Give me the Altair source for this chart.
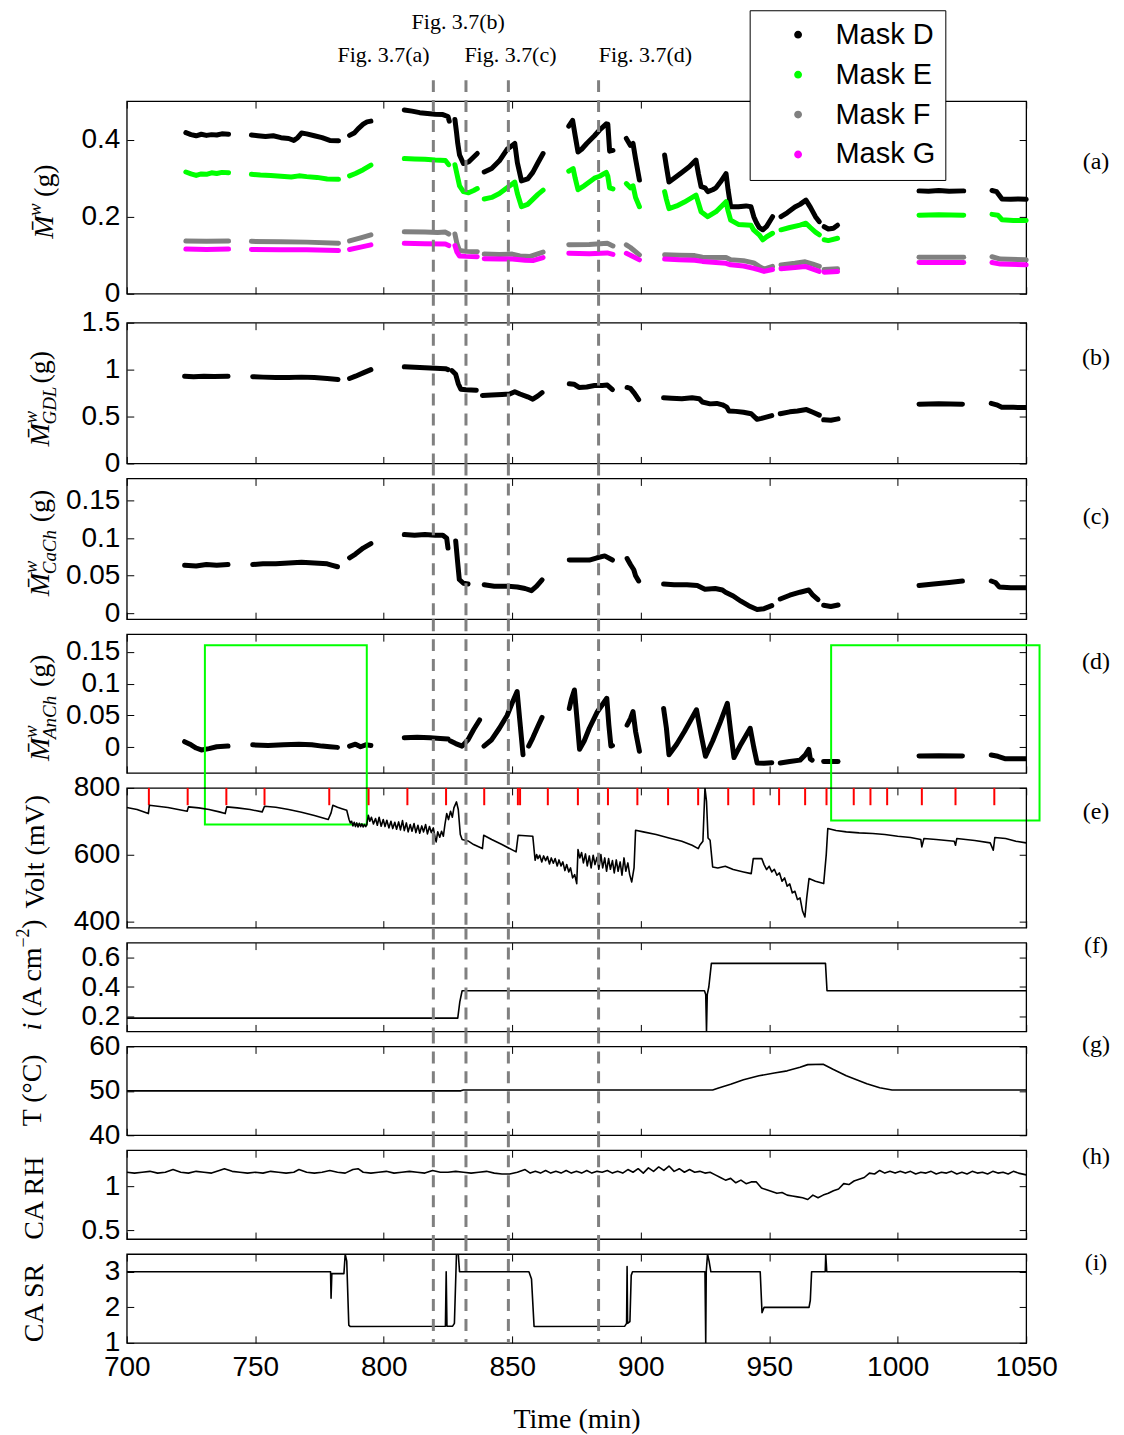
import altair as alt
import pandas as pd

SERIF = "Liberation Serif"
SANS = "Liberation Sans"
W = 901

X_TICKS = [700, 750, 800, 850, 900, 950, 1000, 1050]
FIG_TIMES = [819.3, 832.0, 848.5, 883.6]
FIG_LABELS = ["Fig. 3.7(a)", "Fig. 3.7(b)", "Fig. 3.7(c)", "Fig. 3.7(d)"]
FIG_LABEL_T = [799.9, 829.0, 849.3, 901.8]
FIG_LABEL_ROW = [2, 1, 2, 2]

SERIES = ["Mask D", "Mask E", "Mask F", "Mask G"]
SERIES_COLORS = ["#000000", "#00ff00", "#808080", "#ff00ff"]

# ---------------- panel (a): total water per mask ----------------
MASK_D = [
    [(723, 0.418), (725, 0.413), (727, 0.41), (729, 0.414), (731, 0.411), (733, 0.413), (735, 0.412), (737, 0.415), (739.6, 0.414)],
    [(748.5, 0.412), (751, 0.41), (754, 0.408), (757, 0.41), (760, 0.405), (763, 0.403), (765, 0.398), (766.5, 0.405), (768, 0.417), (770, 0.415), (773, 0.41), (776, 0.405), (779, 0.398), (782.4, 0.397)],
    [(786.7, 0.411), (788.5, 0.417), (790, 0.428), (792, 0.44), (793.5, 0.446), (795, 0.448)],
    [(808, 0.477), (811, 0.474), (814, 0.47), (817, 0.468), (820, 0.466), (823, 0.465), (825, 0.46), (825.5, 0.448)],
    [(827.7, 0.452), (828.3, 0.42), (828.8, 0.39), (829.5, 0.36), (831, 0.338), (833, 0.342), (835, 0.355), (836.4, 0.364)],
    [(839.1, 0.316), (842, 0.325), (845, 0.345), (848, 0.375), (850, 0.385), (851, 0.39), (852, 0.34), (853.6, 0.293), (856, 0.298), (858, 0.315), (860, 0.34), (862, 0.364)],
    [(872, 0.435), (873.5, 0.45), (874.5, 0.41), (875.6, 0.368), (877, 0.375), (879, 0.39), (882, 0.41), (884, 0.425), (886.6, 0.441), (887.2, 0.44), (887.9, 0.37), (889.2, 0.372)],
    [(894.4, 0.403), (896, 0.385), (897, 0.39), (898, 0.35), (899.5, 0.295)],
    [(909.3, 0.36), (910, 0.33), (911, 0.29), (913, 0.3), (916, 0.315), (919, 0.33), (921.5, 0.347), (922.5, 0.31), (923.5, 0.278), (925, 0.275), (926.1, 0.265), (928, 0.27), (929.3, 0.275), (931, 0.29), (933.2, 0.312), (934, 0.27), (935, 0.226), (938, 0.226), (941, 0.228), (942.9, 0.226), (944, 0.2), (945, 0.185), (946.1, 0.172), (947.5, 0.166), (949, 0.175), (951.3, 0.2)],
    [(954.6, 0.2), (957, 0.21), (960, 0.225), (962, 0.232), (964.3, 0.243), (966, 0.225), (968, 0.2), (969.5, 0.187)],
    [(971.4, 0.174), (973, 0.168), (975, 0.17), (976.6, 0.178)],
    [(1008.3, 0.267), (1012, 0.266), (1016, 0.268), (1020, 0.266), (1025.7, 0.267)],
    [(1036.7, 0.268), (1038.5, 0.265), (1040.6, 0.246), (1044, 0.245), (1047, 0.246), (1050, 0.245)],
]
MASK_E = [
    [(723, 0.316), (725, 0.311), (727, 0.307), (729, 0.311), (731, 0.31), (733, 0.314), (735, 0.312), (737, 0.315), (739.6, 0.314)],
    [(748.5, 0.31), (752, 0.308), (756, 0.307), (760, 0.305), (764, 0.303), (767, 0.306), (770, 0.304), (774, 0.302), (778, 0.298), (782.4, 0.297)],
    [(786.7, 0.306), (789, 0.312), (792, 0.322), (795, 0.334)],
    [(808, 0.351), (812, 0.35), (816, 0.349), (820, 0.347), (824, 0.346), (825.3, 0.335)],
    [(827.7, 0.335), (828.5, 0.31), (829.5, 0.28), (831, 0.265), (833, 0.262), (835, 0.268), (836.4, 0.273)],
    [(839.1, 0.246), (842, 0.25), (845, 0.26), (848, 0.275), (850, 0.285), (851, 0.29), (852, 0.26), (853.6, 0.226), (856, 0.232), (858, 0.245), (860, 0.258), (862, 0.269)],
    [(872, 0.318), (873.7, 0.325), (874.5, 0.3), (875.6, 0.27), (878, 0.28), (880, 0.29), (882, 0.3), (884, 0.305), (886.6, 0.315), (887.2, 0.305), (887.9, 0.275), (889.2, 0.272)],
    [(894.4, 0.286), (896, 0.275), (897, 0.28), (898, 0.25), (899.5, 0.226)],
    [(909.3, 0.265), (910, 0.245), (911, 0.221), (914, 0.228), (917, 0.238), (921.5, 0.256), (922.5, 0.235), (923.5, 0.213), (926.1, 0.2), (929.3, 0.213), (933.2, 0.239), (934, 0.215), (935, 0.191), (938, 0.18), (942.9, 0.178), (944, 0.165), (946.1, 0.153), (947.5, 0.14), (949, 0.148), (951.3, 0.157)],
    [(954.6, 0.166), (958, 0.172), (962, 0.178), (964.3, 0.183), (966, 0.172), (968, 0.16), (969.5, 0.153)],
    [(971.4, 0.14), (973, 0.138), (976.6, 0.144)],
    [(1008.3, 0.204), (1016, 0.205), (1025.7, 0.204)],
    [(1036.7, 0.206), (1039, 0.204), (1040.6, 0.192), (1045, 0.19), (1050, 0.19)],
]
MASK_F = [
    [(723, 0.137), (731, 0.136), (739.6, 0.137)],
    [(748.5, 0.136), (760, 0.135), (770, 0.134), (782.4, 0.131)],
    [(786.7, 0.137), (791, 0.145), (795, 0.153)],
    [(808, 0.161), (816, 0.16), (821, 0.159), (824, 0.16), (825.3, 0.155)],
    [(827.7, 0.155), (828.5, 0.13), (829.5, 0.112), (832, 0.11), (836.4, 0.109)],
    [(839.1, 0.103), (845, 0.102), (850, 0.103), (853, 0.098), (857, 0.097), (862, 0.108)],
    [(872, 0.127), (880, 0.128), (887, 0.131), (889.2, 0.124)],
    [(894.4, 0.127), (896, 0.12), (899.5, 0.101)],
    [(909.3, 0.101), (915, 0.1), (921, 0.099), (924, 0.095), (933.2, 0.094), (935, 0.088), (940, 0.086), (944, 0.08), (946.1, 0.071), (948, 0.064), (951.3, 0.071)],
    [(954.6, 0.075), (960, 0.079), (964, 0.083), (967, 0.077), (969.5, 0.071)],
    [(971.4, 0.063), (976.6, 0.065)],
    [(1008.3, 0.095), (1025.7, 0.095)],
    [(1036.7, 0.096), (1040, 0.09), (1050, 0.088)],
]
MASK_G = [
    [(723, 0.116), (731, 0.115), (739.6, 0.116)],
    [(748.5, 0.115), (760, 0.114), (770, 0.114), (782.4, 0.112)],
    [(786.7, 0.115), (791, 0.121), (795, 0.127)],
    [(808, 0.131), (816, 0.13), (824, 0.129), (825.3, 0.125)],
    [(827.7, 0.125), (828.5, 0.108), (829.5, 0.098), (832, 0.097), (836.4, 0.096)],
    [(839.1, 0.091), (845, 0.09), (850, 0.09), (855, 0.087), (858, 0.086), (862, 0.094)],
    [(872, 0.105), (880, 0.104), (887, 0.106), (889.2, 0.102)],
    [(894.4, 0.105), (896, 0.1), (899.5, 0.088)],
    [(909.3, 0.09), (915, 0.088), (921, 0.087), (924, 0.084), (933.2, 0.079), (935, 0.075), (940, 0.072), (944, 0.066), (946.1, 0.062), (948, 0.058), (951.3, 0.063)],
    [(954.6, 0.065), (960, 0.068), (964, 0.071), (967, 0.064), (969.5, 0.058)],
    [(971.4, 0.056), (976.6, 0.058)],
    [(1008.3, 0.081), (1025.7, 0.081)],
    [(1036.7, 0.081), (1040, 0.077), (1050, 0.075)],
]

# ---------------- panel (b): GDL water ----------------
GDL = [
    [(722.5, 0.93), (726, 0.925), (730, 0.93), (734, 0.926), (739.4, 0.93)],
    [(749, 0.925), (753, 0.92), (758, 0.915), (763, 0.915), (768, 0.92), (773, 0.915), (778, 0.905), (782.2, 0.895)],
    [(786.7, 0.905), (789, 0.93), (792, 0.965), (795, 1.0)],
    [(808, 1.03), (812, 1.025), (816, 1.02), (820, 1.015), (824, 1.01), (825, 1.0)],
    [(826.5, 0.99), (828, 0.95), (829, 0.85), (830, 0.79), (832, 0.785), (836, 0.78)],
    [(838.4, 0.725), (842, 0.73), (846, 0.735), (849, 0.74), (851, 0.765), (853, 0.74), (856, 0.71), (858, 0.685), (860, 0.72), (861.6, 0.755)],
    [(872.2, 0.85), (874, 0.845), (876, 0.81), (879, 0.815), (882, 0.83), (885, 0.83), (887, 0.835), (889, 0.787)],
    [(894.7, 0.81), (896, 0.8), (897.5, 0.75), (899.2, 0.68)],
    [(908.9, 0.7), (912, 0.695), (916, 0.69), (920, 0.7), (922.8, 0.69), (924, 0.655), (927, 0.635), (929.6, 0.64), (931.8, 0.625), (933.5, 0.6), (934.3, 0.56), (937, 0.555), (940, 0.545), (943, 0.53), (945.3, 0.47), (947, 0.48), (951, 0.51)],
    [(954.3, 0.53), (958, 0.55), (961, 0.56), (964.5, 0.574), (967, 0.545), (969.5, 0.515)],
    [(971.2, 0.465), (974, 0.46), (976.8, 0.475)],
    [(1008.3, 0.632), (1016, 0.635), (1025.2, 0.632)],
    [(1036.4, 0.64), (1038.5, 0.625), (1040.5, 0.6), (1045, 0.598), (1050, 0.596)],
]

# ---------------- panel (c): cathode channel water ----------------
CACH = [
    [(722.5, 0.064), (727, 0.063), (731, 0.065), (735, 0.064), (739.4, 0.065)],
    [(749, 0.065), (753, 0.066), (758, 0.066), (763, 0.067), (768, 0.068), (773, 0.067), (778, 0.066), (780, 0.064), (782, 0.062)],
    [(786.7, 0.074), (789, 0.079), (792, 0.087), (795, 0.093)],
    [(808, 0.105), (812, 0.104), (816, 0.105), (820, 0.104), (823, 0.104), (824.5, 0.1), (825, 0.087)],
    [(828, 0.0965), (828.7, 0.07), (829.4, 0.045), (831, 0.04), (832.8, 0.039)],
    [(839.1, 0.038), (843, 0.036), (848, 0.036), (852, 0.035), (855, 0.033), (857.5, 0.03), (859.5, 0.036), (861.6, 0.0445)],
    [(872.2, 0.071), (876, 0.071), (880, 0.071), (883, 0.074), (886, 0.0765), (889, 0.071)],
    [(894.7, 0.073), (896, 0.065), (897.3, 0.058), (898, 0.05), (899.2, 0.043)],
    [(908.9, 0.039), (913, 0.038), (918, 0.038), (922, 0.037), (925, 0.032), (929, 0.033), (931.8, 0.031), (933, 0.028), (936, 0.023), (939, 0.016), (942, 0.01), (945.3, 0.005), (948, 0.006), (951, 0.01)],
    [(954.3, 0.019), (958, 0.024), (962, 0.028), (965.4, 0.031), (967, 0.024), (969, 0.018)],
    [(971.2, 0.0107), (974, 0.009), (976.8, 0.011)],
    [(1008.3, 0.037), (1014, 0.039), (1020, 0.041), (1025.2, 0.043)],
    [(1036.4, 0.043), (1038, 0.041), (1039.5, 0.035), (1044, 0.034), (1050, 0.034)],
]

# ---------------- panel (d): anode channel water ----------------
ANCH = [
    [(722.5, 0.009), (725, 0.004), (727, -0.001), (729, -0.004), (732, -0.002), (735, 0.001), (739.4, 0.002)],
    [(749, 0.004), (755, 0.003), (761, 0.004), (767, 0.005), (772, 0.004), (776, 0.002), (779, 0.001), (782, 0.0)],
    [(786.7, 0.002), (789, 0.005), (791, 0.001), (793, 0.004), (795, 0.003)],
    [(808, 0.015), (813, 0.016), (818, 0.015), (822, 0.014), (825, 0.013)],
    [(826, 0.01), (828, 0.006), (830.5, 0.002), (832.8, 0.012), (835, 0.028), (837.3, 0.043)],
    [(839, 0.002), (842, 0.012), (845, 0.03), (848, 0.05), (850, 0.07), (851.9, 0.0875), (853, 0.04), (854.2, -0.0116)],
    [(856.4, 0.002), (858, 0.015), (860, 0.033), (861.6, 0.047)],
    [(872.2, 0.061), (873, 0.075), (874.2, 0.09), (875.2, 0.045), (876.2, -0.003), (878, 0.01), (880, 0.03), (883, 0.055), (886.8, 0.077), (887.6, 0.035), (888.4, 0.002), (889, 0.003)],
    [(894.7, 0.035), (896, 0.045), (897, 0.056), (898, 0.025), (899.5, -0.006)],
    [(908.9, 0.061), (910, 0.03), (911, -0.0116), (914, 0.005), (917, 0.025), (921.7, 0.059), (923.5, 0.02), (925.2, -0.014), (928, 0.01), (931, 0.04), (933.7, 0.069), (935, 0.025), (936.3, -0.016), (939, 0.005), (942.6, 0.03), (944, 0.0), (945.3, -0.0245), (948, -0.025), (951, -0.024)],
    [(954.3, -0.0245), (958, -0.022), (962, -0.02), (964, -0.012), (965.4, -0.003), (966, -0.018), (966.7, -0.02)],
    [(971.2, -0.022), (976.8, -0.022)],
    [(1008.3, -0.0135), (1016, -0.013), (1025.2, -0.0135)],
    [(1036.4, -0.012), (1039, -0.014), (1042, -0.018), (1050, -0.018)],
]
BOX_T = [730.4, 974.1]
BOX_T2 = [793.4, 1055.2]
BOX_V = [0.160, 0.160]
BOX_V2 = [-0.121, -0.1147]

# ---------------- panel (e): cell voltage ----------------
VOLT = [(700, 741), (704, 735), (708.4, 723), (708.8, 748), (712, 745), (716, 741), (720, 735), (723.5, 730), (724, 743),
        (728, 740), (732, 735), (736, 728), (738.3, 723), (738.9, 743), (743, 740), (748, 735), (752.7, 728), (753.6, 745),
        (758, 742), (763, 735), (768, 727), (773, 717), (778.4, 705), (779.5, 725), (780.2, 748), (782, 742), (784, 737),
        (785.6, 733), (786.5, 705), (787, 695), (787.5, 700), (788, 686), (788.5, 697), (789, 684), (789.5, 695),
        (790, 683), (790.5, 694), (791, 684), (791.5, 692), (792, 683), (792.5, 690), (793, 684), (793.4, 690), (794, 718),
        (794.6, 700), (795.2, 712), (796, 692), (796.8, 708), (797.5, 688), (798.2, 712), (799, 685), (799.8, 705),
        (800.5, 684), (801.2, 703), (802, 680), (802.8, 700), (803.5, 678), (804.3, 697), (805, 676), (805.8, 698),
        (806.5, 674), (807.3, 702), (808, 672), (808.8, 695), (809.5, 668), (810.3, 690), (811, 670), (811.8, 693),
        (812.5, 666), (813.3, 688), (814, 664), (814.8, 686), (815.5, 668), (816.3, 690), (817, 662), (817.8, 684),
        (818.5, 666), (819.3, 680), (820, 650), (820.4, 638), (821, 668), (821.8, 652), (822.5, 670), (823.2, 655),
        (823.8, 690), (824.5, 723), (825.2, 705), (826, 730), (826.7, 712), (827.3, 740), (828.3, 758), (829, 735),
        (829.8, 660), (830.5, 645), (832.8, 641), (835, 630), (838.4, 618), (838.9, 658), (842, 645), (846, 630),
        (851.5, 608), (852.3, 658), (858, 655), (858.9, 583), (859.5, 600), (860, 588), (860.7, 598), (861.5, 578),
        (862.2, 596), (863, 582), (863.7, 594), (864.5, 572), (865.2, 590), (866, 574), (866.7, 588), (867.5, 566),
        (868.2, 584), (869, 566), (869.7, 578), (870.5, 552), (871.2, 570), (872, 548), (872.7, 560), (873.5, 530),
        (874.3, 540), (875.1, 513), (875.6, 615), (876.3, 590), (877, 606), (877.7, 575), (878.5, 602), (879.2, 566),
        (880, 596), (880.7, 560), (881.5, 598), (882.2, 570), (883, 592), (883.7, 556), (884.5, 600), (885.2, 560),
        (886, 590), (886.7, 550), (887.5, 588), (888.2, 556), (889, 582), (889.7, 545), (890.5, 584), (891.2, 550),
        (892, 578), (892.7, 538), (893.5, 590), (894.2, 550), (895, 575), (895.7, 540), (896.5, 518), (897.4, 560),
        (898, 673), (901, 668), (906, 660), (911, 650), (916, 640), (920, 628), (922.4, 618), (923, 628), (924.2, 640),
        (925, 800), (925.6, 760), (926.2, 650), (927, 643), (928, 563), (930, 560), (932.9, 565), (936, 555), (940, 548),
        (943, 543), (943.8, 588), (947.1, 588), (948, 570), (949, 555), (950, 565), (951, 548), (952, 556), (953, 538),
        (954, 545), (955, 520), (956, 530), (957, 505), (958, 512), (959, 485), (960, 490), (961, 465), (962, 470),
        (963, 430), (963.9, 413), (964.6, 470), (965.5, 528), (968, 520), (971.2, 513), (972.2, 600), (972.8, 678),
        (976, 672), (980, 668), (985, 665), (990.3, 663), (995, 660), (1000, 655), (1005, 651), (1009, 645),
        (1009.4, 623), (1010.2, 648), (1015, 645), (1022, 640), (1022.5, 628), (1023, 648), (1030, 642), (1036, 635),
        (1037.2, 613), (1037.8, 651), (1042, 648), (1046, 640), (1050, 635)]
PURGE_T = [708.6, 723.7, 738.75, 753.6, 778.8, 794.1, 809.2, 824.25, 839.1, 852.2, 853.05, 863.85, 875.55, 887.25,
           898.7, 910.65, 922.35, 934.05, 943.95, 953.85, 963.98, 972.3, 982.9, 989.4, 995.9, 1009.4, 1022.5, 1037.6]
PURGE_TOP = 800
PURGE_BOTTOM = 748

# ---------------- panel (f): current density ----------------
CURRENT = [(700, 0.19), (828.8, 0.19), (829.6, 0.3), (830.5, 0.375), (924.8, 0.375), (925.3, 0.35), (925.6, 0.1),
           (925.9, 0.35), (926.5, 0.4), (927.5, 0.56), (971.9, 0.56), (972.5, 0.375), (1050, 0.375)]

# ---------------- panel (g): temperature ----------------
TEMP = [(700, 50), (830, 50), (831, 50.2), (928, 50.2), (930, 50.6), (935, 51.5), (940, 52.5), (946, 53.4), (952, 54),
        (957, 54.5), (962, 55.3), (965, 55.9), (971, 56), (975, 54.8), (980, 53.4), (984, 52.5), (988, 51.6), (993, 50.7),
        (997.8, 50.2), (1050, 50.2)]

# ---------------- panel (h): cathode RH ----------------
RH = [(700, 1.16), (703, 1.15), (706, 1.16), (709, 1.17), (712, 1.15), (715, 1.16), (718, 1.19), (721, 1.16), (724, 1.15),
      (727, 1.17), (730, 1.16), (733, 1.15), (736, 1.18), (738, 1.2), (741, 1.17), (744, 1.16), (747, 1.15), (750, 1.16),
      (753, 1.15), (756, 1.17), (759, 1.16), (762, 1.15), (765, 1.16), (767, 1.19), (770, 1.16), (773, 1.15), (776, 1.16),
      (779, 1.18), (782, 1.16), (785, 1.15), (788, 1.19), (790, 1.2), (792, 1.16), (795, 1.15), (798, 1.16), (801, 1.17),
      (804, 1.15), (807, 1.16), (810, 1.17), (813, 1.16), (816, 1.15), (819, 1.18), (822, 1.16), (825, 1.16), (828, 1.17),
      (831, 1.16), (834, 1.15), (837, 1.16), (840, 1.17), (843, 1.15), (846, 1.14), (849, 1.14), (852, 1.16), (855, 1.19),
      (857, 1.15), (859, 1.17), (861, 1.15), (863, 1.18), (865, 1.15), (867, 1.17), (869, 1.15), (871, 1.18), (873, 1.15),
      (875, 1.17), (877, 1.15), (879, 1.18), (881, 1.15), (883, 1.17), (885, 1.16), (887, 1.18), (889, 1.15), (891, 1.17),
      (893, 1.15), (895, 1.19), (897, 1.16), (899, 1.2), (901, 1.15), (903, 1.21), (905, 1.17), (907, 1.22), (909, 1.18),
      (911, 1.23), (913, 1.17), (915, 1.2), (917, 1.16), (919, 1.19), (921, 1.16), (923, 1.17), (925, 1.15), (927, 1.16),
      (929, 1.13), (931, 1.1), (933, 1.07), (935, 1.09), (937, 1.04), (939, 1.07), (941, 1.03), (943, 1.05), (945, 1.05),
      (947, 0.98), (949, 0.96), (951, 0.94), (953, 0.92), (955, 0.93), (957, 0.9), (959, 0.89), (961, 0.88), (963, 0.87),
      (965, 0.85), (967, 0.9), (969, 0.87), (971, 0.9), (973, 0.92), (975, 0.95), (977, 0.97), (979, 1.03), (981, 1.02),
      (983, 1.06), (985, 1.08), (987, 1.1), (989, 1.15), (991, 1.14), (993, 1.18), (995, 1.15), (997, 1.17), (999, 1.15),
      (1001, 1.17), (1003, 1.15), (1005, 1.17), (1007, 1.14), (1009, 1.16), (1011, 1.15), (1013, 1.17), (1015, 1.14),
      (1017, 1.16), (1019, 1.15), (1021, 1.17), (1023, 1.14), (1025, 1.16), (1027, 1.14), (1029, 1.17), (1031, 1.15),
      (1033, 1.16), (1035, 1.14), (1037, 1.17), (1039, 1.15), (1041, 1.16), (1043, 1.14), (1045, 1.17), (1047, 1.15),
      (1050, 1.13)]

# ---------------- panel (i): cathode stoichiometry ----------------
SR = [(700, 3.0), (779.3, 3.0), (779.5, 2.26), (779.8, 2.95), (784.5, 2.95), (785, 3.5), (785.6, 3.3), (786.4, 1.5),
      (787, 1.46), (824, 1.47), (824.3, 3.0), (824.6, 1.47), (826.8, 1.47), (827.5, 1.55), (828.3, 3.5), (829, 3.5),
      (829.5, 3.0), (856.5, 3.0), (857.5, 2.8), (858.5, 1.46), (893.8, 1.47), (894.5, 1.55), (894.7, 3.15), (894.9, 1.55),
      (895.8, 1.6), (896.3, 2.9), (896.8, 3.0), (925, 3.0), (925.3, 1.0), (925.5, 3.0), (926, 3.5), (926.6, 3.3),
      (927.3, 3.0), (946.5, 3.0), (947.2, 1.85), (948, 2.0), (965.5, 2.0), (966, 2.2), (966.5, 3.0), (971.8, 3.0),
      (972, 3.5), (972.4, 3.0), (1050, 3.0)]

PANEL_LETTERS = ["(a)", "(b)", "(c)", "(d)", "(e)", "(f)", "(g)", "(h)", "(i)"]

ONE = pd.DataFrame({"z": [0]})


def seg_frame(segs, name):
    rows = []
    for k, seg in enumerate(segs):
        for t, v in seg:
            rows.append({"t": t, "v": v, "key": f"{name}-{k}", "series": name})
    return pd.DataFrame(rows)


def pts_frame(pts):
    return pd.DataFrame({"t": [p[0] for p in pts], "v": [p[1] for p in pts]})


def xenc(h, bottom=False):
    common = dict(values=X_TICKS, ticks=False, domain=False, grid=True, gridDash=[7, h - 14],
                  gridColor="black", gridOpacity=1, gridWidth=1)
    if bottom:
        ax = alt.Axis(labels=True, format="d", labelFont=SANS, labelFontSize=28, labelColor="black",
                      labelPadding=11, labelFlush=False, labelOverlap=False,
                      title="Time (min)", titleFont=SERIF, titleFontSize=28, titleFontWeight="normal",
                      titleColor="black", titlePadding=24, **common)
    else:
        ax = alt.Axis(labels=False, title=None, **common)
    return alt.X("t:Q", scale=alt.Scale(domain=[700, 1050], nice=False, zero=False), axis=ax)


def yenc(dom, vals, fmt):
    ax = alt.Axis(values=vals, format=fmt, labelFont=SANS, labelFontSize=28, labelColor="black",
                  labelPadding=7, labelFlush=False, labelOverlap=False, ticks=False, domain=False,
                  grid=True, gridDash=[7, W - 14], gridColor="black", gridOpacity=1, gridWidth=1, title=None)
    return alt.Y("v:Q", scale=alt.Scale(domain=dom, nice=False, zero=False), axis=ax)


def txt(text, x, y, size=28, style="normal", align="left", baseline="alphabetic", angle=270, dx=0, dy=0, font=SERIF):
    return alt.Chart(ONE).mark_text(text=text, font=font, fontSize=size, fontStyle=style, align=align,
                                    baseline=baseline, angle=angle, dx=dx, dy=dy, color="black").encode(
        x=alt.value(x), y=alt.value(y))


def mass_title(sub, x, y):
    parts = [txt("M\u0304", x, y, style="italic"), txt("w", x, y, size=19, style="italic", dx=23, dy=-12)]
    adv = 42
    if sub:
        parts.append(txt(sub, x, y, size=19, style="italic", dx=22, dy=7))
        adv = 22 + len(sub) * 11 + 8
    parts.append(txt("(g)", x, y, dx=adv))
    return parts


def vlines(h, top, bottom=False):
    return alt.Chart(pd.DataFrame({"t": FIG_TIMES})).mark_rule(
        color="#808080", strokeWidth=3, strokeDash=[12, 8]).encode(
        x=xenc(h, bottom), y=alt.value(-top), y2=alt.value(h))


def letter(i, y):
    return txt(PANEL_LETTERS[i], 971, y, size=24, align="center", baseline="middle", angle=0)


# ---------------- build panels ----------------
HA = 193
df_a = pd.concat([seg_frame(MASK_D, "Mask D"), seg_frame(MASK_E, "Mask E"),
                  seg_frame(MASK_F, "Mask F"), seg_frame(MASK_G, "Mask G")])
ya = yenc([0, 0.5], [0, 0.2, 0.4], ".1~f")
color_scale = alt.Scale(domain=SERIES, range=SERIES_COLORS)
lines_a = alt.Chart(df_a).mark_line(strokeWidth=5, strokeCap="round", strokeJoin="round").encode(
    x=xenc(HA), y=ya, color=alt.Color("series:N", scale=color_scale, legend=None), detail="key:N")
# first sample of each series drawn as a dot (it sits under the thick line); it carries the legend
first_pts = df_a.groupby("series", as_index=False).first()
dots_a = alt.Chart(first_pts).mark_circle(size=18, opacity=1).encode(
    x=xenc(HA), y=ya,
    color=alt.Color("series:N", scale=color_scale,
                    legend=alt.Legend(title=None, orient="none", legendX=624, legendY=-91,
                                      symbolType="circle", symbolSize=40, symbolOpacity=1,
                                      symbolOffset=24, labelOffset=23, labelFont=SANS, labelFontSize=29,
                                      labelColor="black", labelLimit=400, rowPadding=10, padding=10,
                                      strokeColor="black", fillColor="white", cornerRadius=0)))
fig_df = pd.DataFrame({"t": FIG_LABEL_T, "label": FIG_LABELS, "row": FIG_LABEL_ROW})
fig_row1 = alt.Chart(fig_df[fig_df.row == 1]).mark_text(font=SERIF, fontSize=22, baseline="alphabetic",
                                                        color="black").encode(
    x=xenc(HA), y=alt.value(-72), text="label:N")
fig_row2 = alt.Chart(fig_df[fig_df.row == 2]).mark_text(font=SERIF, fontSize=22, baseline="alphabetic",
                                                        color="black").encode(
    x=xenc(HA), y=alt.value(-39), text="label:N")
anchor_a = alt.Chart(ONE).mark_rule(opacity=0).encode(x=alt.value(-126), x2=alt.value(0), y=alt.value(-99))
panel_a = alt.layer(anchor_a, dots_a, lines_a, vlines(HA, 21), fig_row1, fig_row2,
                    *mass_title("", -74, 138), letter(0, 61)).properties(width=W, height=HA)


def simple_panel(df, h, dom, vals, fmt, title_layers, idx, letter_y, top, extra=(), bottom=False,
                 width=5, cap="round", anchor=None):
    line = alt.Chart(df).mark_line(strokeWidth=width, strokeCap=cap, strokeJoin="round", color="black",
                                   clip=True).encode(
        x=xenc(h, bottom), y=yenc(dom, vals, fmt), **({"detail": "key:N"} if "key" in df.columns else {}))
    layers = list(extra) + [line, vlines(h, top, bottom)] + list(title_layers) + [letter(idx, letter_y)]
    if anchor is not None:
        layers.append(anchor)
    return alt.layer(*layers).properties(width=W, height=h)


HB, HC, HD, HE = 141, 141, 139, 140
HF = HG = HH = HI = 89

panel_b = simple_panel(seg_frame(GDL, "b"), HB, [0, 1.5], [0, 0.5, 1, 1.5], ".1~f",
                       mass_title("GDL", -78, 124), 1, 35, 29)
panel_c = simple_panel(seg_frame(CACH, "c"), HC, [-0.008, 0.18], [0, 0.05, 0.1, 0.15], ".2~f",
                       mass_title("CaCh", -78, 118), 2, 39, 15)

box_df = pd.DataFrame({"t": BOX_T, "t2": BOX_T2, "v": BOX_V, "v2": BOX_V2})
ydom_d = [-0.04, 0.1775]
boxes = alt.Chart(box_df).mark_rect(filled=False, color="#00ff00", strokeWidth=2, clip=False).encode(
    x=xenc(HD), x2="t2:Q", y=yenc(ydom_d, [0, 0.05, 0.1, 0.15], ".2~f"), y2="v2:Q")
panel_d = alt.layer(
    alt.Chart(seg_frame(ANCH, "d")).mark_line(strokeWidth=5, strokeCap="round", strokeJoin="round",
                                             color="black", clip=True).encode(
        x=xenc(HD), y=yenc(ydom_d, [0, 0.05, 0.1, 0.15], ".2~f"), detail="key:N"),
    vlines(HD, 15), boxes, *mass_title("AnCh", -78, 127), letter(3, 28)).properties(width=W, height=HD)

purge_df = pd.DataFrame({"t": PURGE_T, "v": [PURGE_TOP] * len(PURGE_T), "v2": [PURGE_BOTTOM] * len(PURGE_T)})
ydom_e = [381, 800]
purges = alt.Chart(purge_df).mark_rule(color="#ff0000", strokeWidth=2).encode(
    x=xenc(HE), y=yenc(ydom_e, [400, 600, 800], "d"), y2="v2:Q")
panel_e = simple_panel(pts_frame(VOLT), HE, ydom_e, [400, 600, 800], "d",
                       [txt("Volt (mV)", -83, 64, align="center")], 4, 24, 15, extra=[purges],
                       width=1.6, cap="butt")

panel_f = simple_panel(pts_frame(CURRENT), HF, [0.1, 0.7], [0.2, 0.4, 0.6], ".1~f",
                       [txt("i", -86, 88, style="italic"), txt("(A cm", -86, 88, dx=14),
                        txt("\u22122", -86, 88, size=18, dx=83, dy=-12), txt(")", -86, 88, dx=102)],
                       5, 3, 15, width=1.6, cap="butt")
panel_g = simple_panel(pts_frame(TEMP), HG, [40, 60], [40, 50, 60], "d",
                       [txt("T (\u00b0C)", -86, 44, align="center")], 6, -1, 15, width=1.6, cap="butt")
panel_h = simple_panel(pts_frame(RH), HH, [0.4, 1.41], [0.5, 1], ".1~f",
                       [txt("CA RH", -84, 48, align="center")], 7, 7, 15, width=1.6, cap="butt")
anchor_i = alt.Chart(ONE).mark_rule(opacity=0).encode(x=alt.value(997), x2=alt.value(998), y=alt.value(181))
panel_i = simple_panel(pts_frame(SR), HI, [1, 3.5], [1, 2, 3], "d",
                       [txt("CA SR", -84, 49, align="center")], 8, 9, 15, bottom=True,
                       width=1.6, cap="butt", anchor=anchor_i)

lower = alt.vconcat(panel_b, panel_c, panel_d, panel_e, panel_f, panel_g, panel_h, panel_i,
                    spacing=15, bounds="flush")
chart = alt.vconcat(panel_a, lower, spacing=29, bounds="flush").properties(
    padding=0, background="white").configure_view(stroke="black", strokeWidth=1.3)

chart.save("out.html", embed_options={"renderer": "svg", "actions": False})
